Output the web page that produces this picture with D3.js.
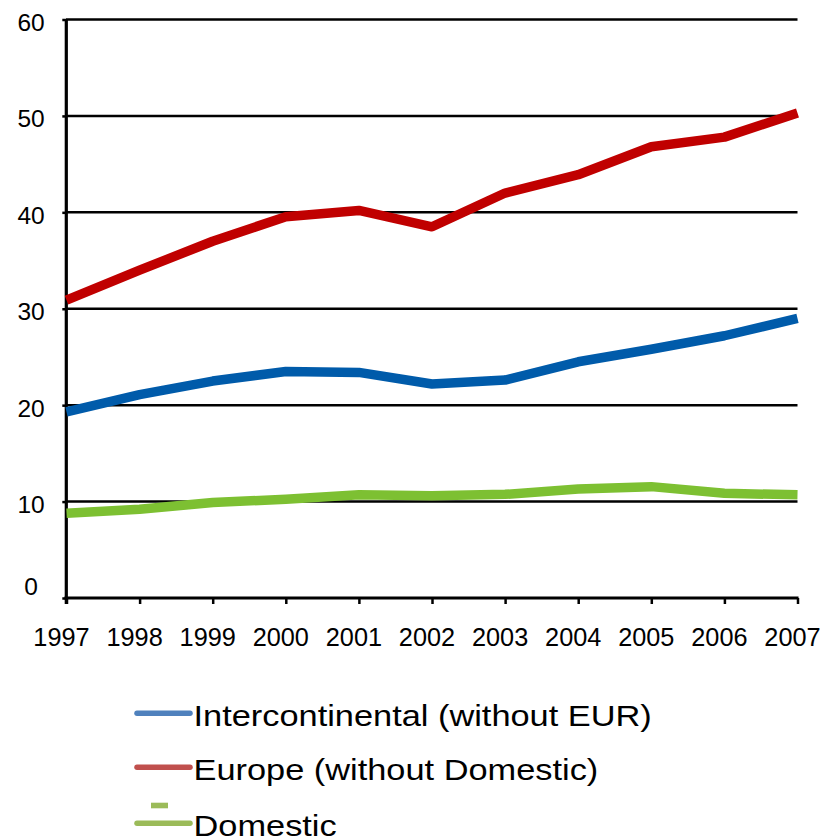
<!DOCTYPE html>
<html>
<head>
<meta charset="utf-8">
<script src="https://cdn.jsdelivr.net/npm/d3@7"></script>
<style>
  html, body { margin: 0; padding: 0; background: #fff; }
  svg { display: block; font-family: "Liberation Sans", Arial, sans-serif; }
</style>
</head>
<body>
<svg id="chart" width="823" height="837"></svg>
<script>
// Years on the x axis
const years = [1997, 1998, 1999, 2000, 2001, 2002, 2003, 2004, 2005, 2006, 2007];

// Series values
const intercontinental = [19.3, 21.1, 22.5, 23.5, 23.4, 22.2, 22.6, 24.5, 25.8, 27.2, 29.0];
const europe = [30.9, 34.0, 37.0, 39.55, 40.2, 38.5, 42.0, 43.9, 46.8, 47.8, 50.3];
const domestic = [8.8, 9.2, 9.9, 10.24, 10.7, 10.6, 10.75, 11.3, 11.55, 10.86, 10.7];

// Tick values of the value axis
const yTicks = [0, 10, 20, 30, 40, 50, 60];

const seriesNames = ["Intercontinental (without EUR)", "Europe (without Domestic)", "Domestic"];
const lineColors = ["#005BAA", "#C00000", "#7DC032"];
const legendColors = ["#4F81BD", "#C0504D", "#9BBB59"];

const series = [intercontinental, europe, domestic].map((values, i) => ({
  name: seriesNames[i],
  color: lineColors[i],
  legendColor: legendColors[i],
  values
}));

const svg = d3.select("#chart");

const x = d3.scalePoint().domain(years).range([66.5, 797.5]);
const y = d3.scaleLinear().domain([0, 60]).range([598, 19.5]);

// Horizontal gridlines
svg.append("g")
  .selectAll("line")
  .data(yTicks.filter(d => d > 0))
  .join("line")
  .attr("x1", 66).attr("x2", 797.5)
  .attr("y1", d => y(d)).attr("y2", d => y(d))
  .attr("stroke", "#000").attr("stroke-width", 2.5);

// Value axis
const yAxis = svg.append("g")
  .attr("transform", "translate(66.3,0)")
  .call(d3.axisLeft(y).tickValues(yTicks).tickSize(4).tickPadding(0).tickFormat(d3.format("d")));
yAxis.select(".domain").attr("stroke", "#000").attr("stroke-width", 3.2)
  .attr("d", `M0,${y(60)}V${y(0) + 6}`);
yAxis.selectAll(".tick line").attr("stroke", "#000").attr("stroke-width", 2.5);
yAxis.selectAll(".tick text")
  .attr("x", -35.3)
  .attr("text-anchor", "middle")
  .attr("dy", null)
  .attr("y", d => d === 0 ? -4 : 11)
  .attr("fill", "#000")
  .style("font-size", "24.5px")
  .style("font-family", "'Liberation Sans', Arial, sans-serif");

// Category axis
const xAxis = svg.append("g")
  .attr("transform", `translate(0,${y(0)})`)
  .call(d3.axisBottom(x).tickSize(6).tickPadding(0));
xAxis.select(".domain").attr("stroke", "#000").attr("stroke-width", 3)
  .attr("d", `M64.5,0H798.5`);
xAxis.selectAll(".tick line").attr("stroke", "#000").attr("stroke-width", 2.5);
xAxis.selectAll(".tick text")
  .attr("x", -5.5)
  .attr("y", 47.5)
  .attr("dy", null)
  .attr("fill", "#000")
  .style("font-size", "25.3px")
  .style("font-family", "'Liberation Sans', Arial, sans-serif");

// Series lines
const line = d3.line()
  .x((d, i) => x(years[i]))
  .y(d => y(d));

svg.append("g")
  .selectAll("path")
  .data([series[2], series[0], series[1]])
  .join("path")
  .attr("d", d => line(d.values))
  .attr("fill", "none")
  .attr("stroke", d => d.color)
  .attr("stroke-width", 9.5)
  .attr("stroke-linejoin", "round")
  .attr("stroke-linecap", "butt");

// Legend
const legendRows = [713.3, 767.3, 823.3];
const legend = svg.append("g");
series.forEach((s, i) => {
  const row = legend.append("g").attr("transform", `translate(0,${legendRows[i]})`);
  row.append("line")
    .attr("x1", 137).attr("x2", 190)
    .attr("stroke", s.legendColor)
    .attr("stroke-width", 5.5)
    .attr("stroke-linecap", "round");
  row.append("text")
    .attr("transform", "translate(193.5,12.4) scale(1.165,1)")
    .attr("fill", "#000")
    .style("font-size", "29.5px")
    .text(s.name);
});
// small marker above the Domestic key
legend.append("rect")
  .attr("x", 151).attr("y", 802.7)
  .attr("width", 17).attr("height", 5.6)
  .attr("fill", legendColors[2]);
</script>
</body>
</html>
